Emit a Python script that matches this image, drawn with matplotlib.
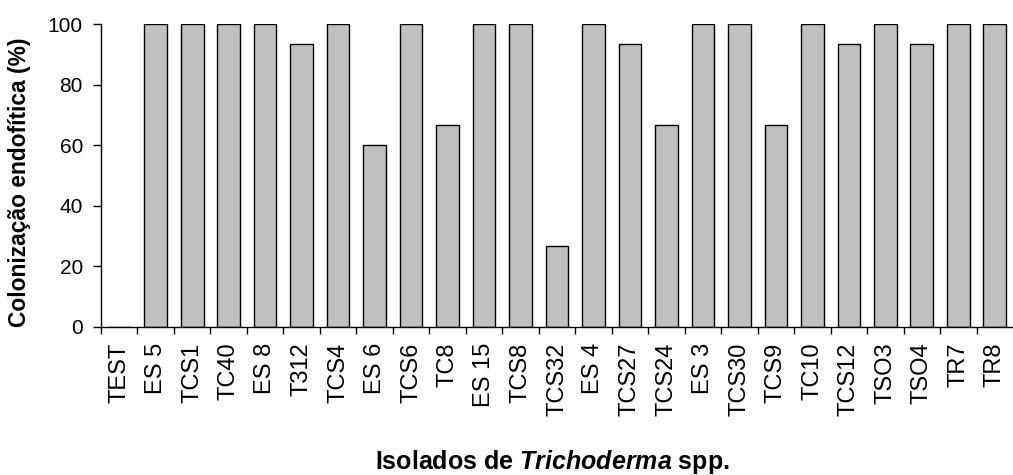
import matplotlib.pyplot as plt
import numpy as np

plt.rcParams['font.family'] = ['Liberation Sans', 'DejaVu Sans']
plt.rcParams['mathtext.fontset'] = 'custom'
plt.rcParams['mathtext.rm'] = 'Liberation Sans:bold'
plt.rcParams['mathtext.it'] = 'Liberation Sans:italic:bold'

isolados = ["TEST", "ES 5", "TCS1", "TC40", "ES 8", "T312", "TCS4", "ES 6",
            "TCS6", "TC8", "ES 15", "TCS8", "TCS32", "ES 4", "TCS27", "TCS24",
            "ES 3", "TCS30", "TCS9", "TC10", "TCS12", "TSO3", "TSO4", "TR7", "TR8"]
colonizacao = [0, 100, 100, 100, 100, 93.3, 100, 60, 100, 66.7, 100, 100, 26.7,
               100, 93.3, 66.7, 100, 100, 66.7, 100, 93.3, 100, 93.3, 100, 100]

fig = plt.figure(figsize=(10.13, 4.75), dpi=100)
ax = fig.add_axes([101/1013, 1 - 327/475, 1 - 101/1013, (327 - 24)/475])

x = np.arange(len(isolados))
ax.bar(x, colonizacao, width=0.62, color='#c0c0c0', edgecolor='black', linewidth=1.0)

ax.set_xlim(-0.5, len(isolados) - 0.5)
ax.set_ylim(0, 100)
ax.set_yticks([0, 20, 40, 60, 80, 100])
ax.tick_params(axis='y', labelsize=15, length=6, width=1, direction='out', pad=7)

ax.set_xticks(x)
ax.set_xticklabels(isolados, rotation=90, fontsize=17)
ax.tick_params(axis='x', which='major', length=0, pad=11)
ax.set_xticks(np.arange(-0.5, len(isolados) - 0.5, 1), minor=True)
ax.tick_params(axis='x', which='minor', length=5, width=1, direction='out')

for s in ['top', 'right']:
    ax.spines[s].set_visible(False)
for s in ['left', 'bottom']:
    ax.spines[s].set_linewidth(1)

ax.set_ylabel('Colonização endofítica (%)', fontsize=16.4, fontweight='bold')
ax.yaxis.set_label_coords(-0.077, 0.478)
fig.text(0.5454, 1 - 462/475, r'Isolados de $\mathit{Trichoderma}$ spp.', fontsize=18,
         fontweight='bold', ha='center', va='center')

fig.savefig('out.png', dpi=100)
